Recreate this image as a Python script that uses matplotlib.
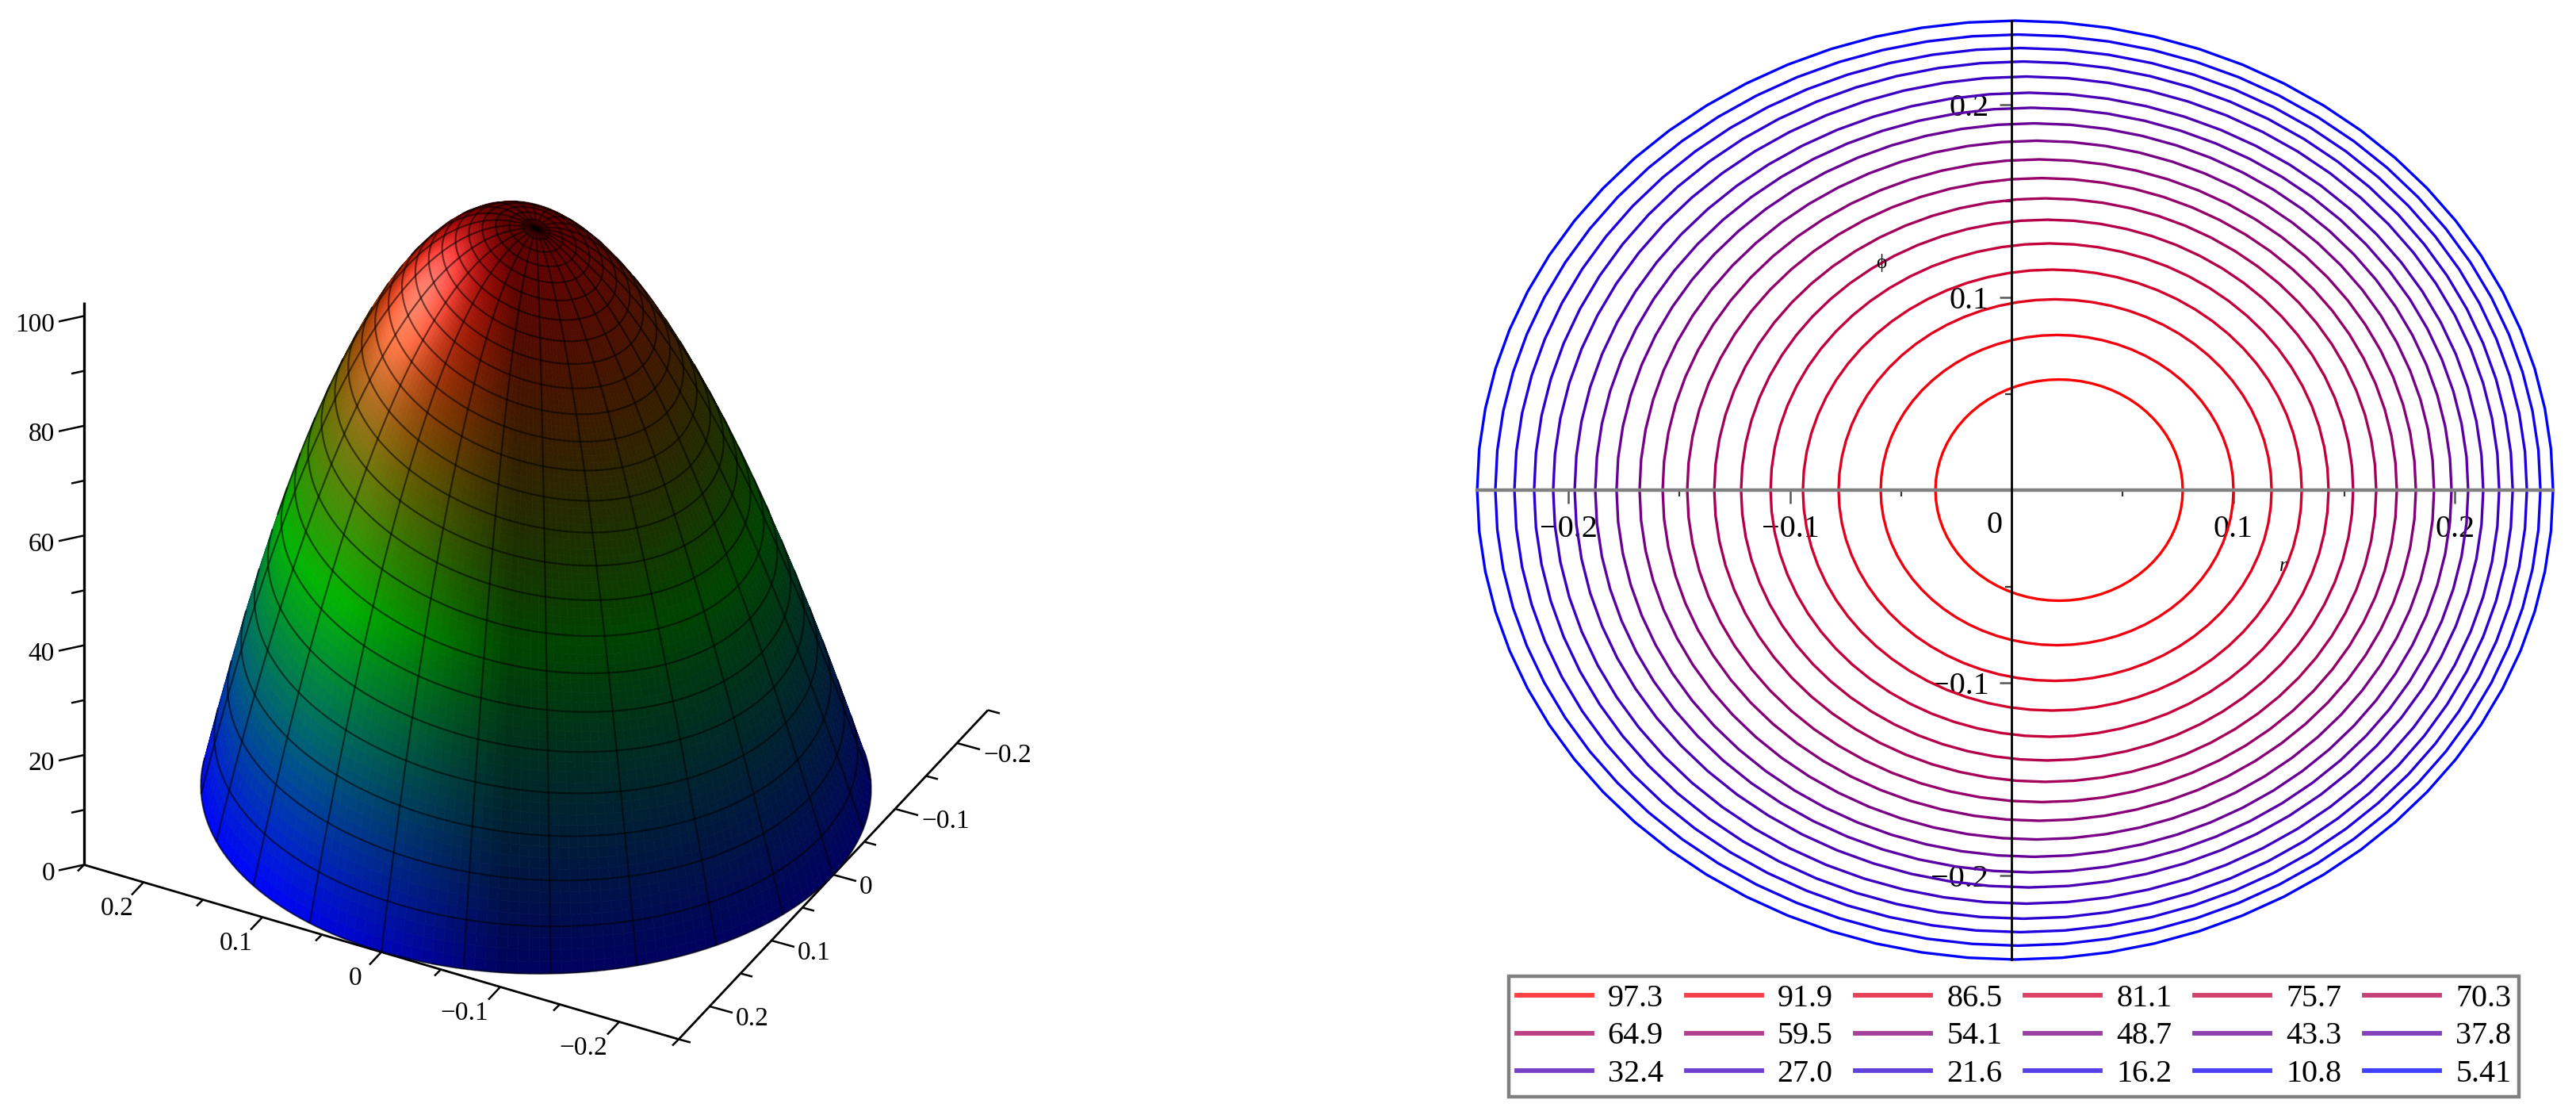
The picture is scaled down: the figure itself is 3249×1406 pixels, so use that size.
import numpy as np
import matplotlib
matplotlib.use('Agg')
import matplotlib.pyplot as plt
from matplotlib.collections import LineCollection, PolyCollection
from matplotlib.lines import Line2D

plt.rcParams['font.family'] = ['Liberation Serif', 'DejaVu Serif']

# contour levels, inner to outer
levels = [97.3, 91.9, 86.5, 81.1, 75.7, 70.3, 64.9, 59.5, 54.1,
          48.7, 43.3, 37.8, 32.4, 27.0, 21.6, 16.2, 10.8, 5.41]
level_labels = ['97.3', '91.9', '86.5', '81.1', '75.7', '70.3', '64.9', '59.5', '54.1',
                '48.7', '43.3', '37.8', '32.4', '27.0', '21.6', '16.2', '10.8', '5.41']
# where each contour crosses the axes
r_left = [-0.0345, -0.0592, -0.0782, -0.0943, -0.1089, -0.1222, -0.1343, -0.1465, -0.1576,
          -0.1680, -0.1784, -0.1880, -0.1973, -0.2070, -0.2156, -0.2245, -0.2331, -0.2413]
r_right = [0.0771, 0.1000, 0.1172, 0.1308, 0.1429, 0.1540, 0.1644, 0.1737, 0.1823,
           0.1905, 0.1984, 0.2059, 0.2127, 0.2199, 0.2260, 0.2324, 0.2385, 0.2442]
phi_half = [0.0574, 0.0805, 0.0990, 0.1144, 0.1280, 0.1403, 0.1514, 0.1619, 0.1716,
            0.1813, 0.1903, 0.1984, 0.2062, 0.2146, 0.2224, 0.2294, 0.2364, 0.2436]
peak_z = 102.7
peak_r = 0.0215
rim_radius = 0.25

z_major = [0, 20, 40, 60, 80, 100]
z_minor = [10, 30, 50, 70, 90]
r_major = [-0.2, -0.1, 0, 0.1, 0.2]
r_minor = [-0.25, -0.15, -0.05, 0.05, 0.15, 0.25]
tick_labels = ['\u22120.2', '\u22120.1', '0', '0.1', '0.2']

W, H = 3249, 1406
fig = plt.figure(figsize=(W / 100, H / 100), dpi=100)


# oblique view of the left plot, in image pixels
def project(a, b, z):
    a, b, z = np.broadcast_arrays(a, b, z)
    return 676 - 1500 * a - 780 * b, 993 - 440 * a + 830 * b - 6.92 * z


ax3 = fig.add_axes([0, 0, 1, 1])
ax3.set_xlim(0, W)
ax3.set_ylim(H, 0)
ax3.axis('off')

# surface heights come from the contour readings
lv = np.array(levels + [0.0, peak_z])
lo = np.array(r_left + [-rim_radius, peak_r])
hi = np.array(r_right + [rim_radius, peak_r])
ph = np.array(phi_half + [rim_radius, 0.0])
fit_c = np.polyfit(lv, (lo + hi) / 2, 3)
fit_rx = np.polyfit(lv, ((hi - lo) / 2) ** 2, 3)
fit_ry = np.polyfit(lv, ph ** 2, 3)


def outside(a, b, z):
    rx = np.maximum(np.polyval(fit_rx, z), 1e-7)
    ry = np.maximum(np.polyval(fit_ry, z), 1e-7)
    return (a - np.polyval(fit_c, z)) ** 2 / rx + b ** 2 / ry - 1


def height(a, b):
    low = np.zeros_like(a)
    high = np.full_like(a, peak_z)
    for _ in range(40):
        mid = (low + high) / 2
        over = outside(a, b, mid) > 0
        high = np.where(over, mid, high)
        low = np.where(over, low, mid)
    return (low + high) / 2


n_rings, n_spokes = 25, 24
sub_r, sub_t = 4, 8
rr = np.linspace(0, rim_radius, n_rings * sub_r + 1)
tt = np.linspace(0, 2 * np.pi, n_spokes * sub_t + 1)
R, T = np.meshgrid(rr, tt, indexing='ij')
A = R * np.cos(T)
B = R * np.sin(T)
Z = height(A, B)
PX, PY = project(A, B, Z)

# lighting
zs = 1 / 400
da = np.gradient(A, axis=0), np.gradient(A, axis=1)
db = np.gradient(B, axis=0), np.gradient(B, axis=1)
dz = np.gradient(Z * zs, axis=0), np.gradient(Z * zs, axis=1)
nx = db[0] * dz[1] - dz[0] * db[1]
ny = dz[0] * da[1] - da[0] * dz[1]
nz = da[0] * db[1] - db[0] * da[1]
ln = np.sqrt(nx ** 2 + ny ** 2 + nz ** 2) + 1e-12
nx, ny, nz = nx / ln, ny / ln, nz / ln
nx[0], ny[0], nz[0] = nx[1], ny[1], nz[1]
light = np.array([0.55, 0.62, 0.55])
light = light / np.linalg.norm(light)
dot = nx * light[0] + ny * light[1] + nz * light[2]
shade = 0.38 + 0.62 * np.clip((dot - 0.6) / 0.36, 0, 1)
spec_dir = np.array([0.32, 0.42, 0.85])
spec_dir = spec_dir / np.linalg.norm(spec_dir)
spec = np.clip(nx * spec_dir[0] + ny * spec_dir[1] + nz * spec_dir[2], 0, 1) ** 35 * 0.42

base_r = np.interp(Z, [0, 50, 100], [0, 0, 1])
base_g = np.interp(Z, [0, 50, 100], [0, 0.7, 0])
base_b = np.interp(Z, [0, 50, 100], [1, 0, 0])
RGB = np.dstack([base_r * shade + spec, base_g * shade + spec, base_b * shade + spec])
RGB = np.clip(RGB, 0, 1)

area = (PX[1:, :-1] - PX[:-1, :-1]) * (PY[:-1, 1:] - PY[:-1, :-1]) \
    - (PY[1:, :-1] - PY[:-1, :-1]) * (PX[:-1, 1:] - PX[:-1, :-1])
front = area < 0
front[:sub_r] = True

verts, faces = [], []
for i in range(len(rr) - 1):
    for j in range(len(tt) - 1):
        if front[i, j]:
            verts.append([(PX[i, j], PY[i, j]), (PX[i + 1, j], PY[i + 1, j]),
                          (PX[i + 1, j + 1], PY[i + 1, j + 1]), (PX[i, j + 1], PY[i, j + 1])])
            faces.append(RGB[i, j])
ax3.add_collection(PolyCollection(verts, facecolors=faces, edgecolors=faces, linewidths=0.5, zorder=2))

# mesh lines, front side only
segs = []
for i in range(sub_r, len(rr), sub_r):
    for j in range(len(tt) - 1):
        if front[min(i, len(rr) - 2), j] or front[i - 1, j]:
            segs.append([(PX[i, j], PY[i, j]), (PX[i, j + 1], PY[i, j + 1])])
for j in range(0, len(tt) - 1, sub_t):
    for i in range(len(rr) - 1):
        if front[i, j] or front[i, j - 1]:
            segs.append([(PX[i, j], PY[i, j]), (PX[i + 1, j], PY[i + 1, j])])
ax3.add_collection(LineCollection(segs, colors='black', alpha=0.55, linewidths=1.6, zorder=3))


def seg(ax, xs, ys, lw=2.4):
    ax.plot(xs, ys, color='black', lw=lw, solid_capstyle='butt', zorder=1)


# axes of the left plot
x0, y0 = project(rim_radius, rim_radius, [0, 102.6])
seg(ax3, x0, y0)
x1, y1 = project([rim_radius, -rim_radius], rim_radius, 0)
seg(ax3, x1, y1, 2.0)
x2, y2 = project(-rim_radius, [rim_radius, -rim_radius], 0)
seg(ax3, x2, y2, 2.0)

for v in z_major:
    x, y = project(rim_radius, rim_radius, v)
    seg(ax3, [x, x - 32], [y, y + 7], 1.8)
    ax3.text(x - 37, y + 11, str(v), ha='right', va='center', fontsize=24)
for v in z_minor:
    x, y = project(rim_radius, rim_radius, v)
    seg(ax3, [x, x - 16], [y, y + 3.5], 1.8)
for v, lab in zip(r_major, tick_labels):
    x, y = project(v, rim_radius, 0)
    seg(ax3, [x, x - 15], [y, y + 16], 1.8)
    ax3.text(x - 33 - (12 if v < 0 else 0), y + 33, lab, ha='center', va='center', fontsize=24)
    x, y = project(-rim_radius, v, 0)
    seg(ax3, [x, x + 29], [y, y + 8], 1.8)
    ax3.text(x + 33, y + 16, lab, ha='left', va='center', fontsize=24)
for v in r_minor:
    x, y = project(v, rim_radius, 0)
    seg(ax3, [x, x - 8], [y, y + 8], 1.8)
    x, y = project(-rim_radius, v, 0)
    seg(ax3, [x, x + 15], [y, y + 4], 1.8)

# contour plot
xlim = (r_left[-1], r_right[-1])
ylim = (-phi_half[-1], phi_half[-1])
px_x = (2537.5 + 2795 * xlim[0], 2537.5 + 2795 * xlim[1])
px_y = (618 - 2430 * ylim[1], 618 - 2430 * ylim[0])
ax = fig.add_axes([px_x[0] / W, 1 - px_y[1] / H, (px_x[1] - px_x[0]) / W, (px_y[1] - px_y[0]) / H])
ax.patch.set_alpha(0)
ax.set_xlim(xlim)
ax.set_ylim(ylim)

frac = np.linspace(0, 1, len(levels))
colors = [(1 - f, 0, f) for f in frac]
ang = np.linspace(0, 2 * np.pi, 73)
handles = []
for k in range(len(levels)):
    cx = (r_left[k] + r_right[k]) / 2
    rx = (r_right[k] - r_left[k]) / 2
    ax.plot(cx + rx * np.cos(ang), phi_half[k] * np.sin(ang), color=colors[k], lw=2.4, clip_on=False, zorder=2)
    handles.append(Line2D([], [], color=colors[k], alpha=0.75, lw=3.2, label=level_labels[k]))

for side in ['top', 'right']:
    ax.spines[side].set_visible(False)
ax.spines['left'].set_position('zero')
ax.spines['bottom'].set_position('zero')
ax.spines['left'].set_linewidth(2.0)
ax.spines['bottom'].set_linewidth(3.2)
ax.spines['bottom'].set_color('#808080')
ax.spines['left'].set_zorder(5)
ax.spines['bottom'].set_zorder(4)

ax.set_xticks([-0.2, -0.1, 0.1, 0.2])
ax.set_xticklabels(['\u22120.2', '\u22120.1', '0.1', '0.2'])
ax.set_yticks([-0.2, -0.1, 0.1, 0.2])
ax.set_yticklabels(['\u22120.2', '\u22120.1', '0.1', '0.2'])
ax.set_xticks([-0.15, -0.05, 0.05, 0.15], minor=True)
ax.set_yticks([-0.15, -0.05, 0.05, 0.15], minor=True)
ax.tick_params(axis='x', which='major', length=12, width=1.8, color='#555555', pad=10, labelsize=29)
ax.tick_params(axis='y', which='major', length=11, width=1.8, color='#555555', pad=10, labelsize=29)
ax.tick_params(which='minor', length=6, width=1.6, color='#333333')
for t in ax.get_xticklabels() + ax.get_yticklabels():
    t.set_zorder(6)
ax.text(-0.008, -0.0185, '0', ha='center', va='center', fontsize=29, zorder=6)
ax.text(-0.0589, 0.1177, '\u03d5', ha='center', va='center', fontsize=18, zorder=6)
ax.text(0.1225, -0.0395, 'r', ha='center', va='center', fontsize=18, style='italic', zorder=6)

# legend is filled by column, the reference reads by row
order = [handles[r * 6 + c] for c in range(6) for r in range(3)]
leg = fig.legend(handles=order, ncol=6, loc='center',
                 bbox_to_anchor=(2540 / W, 1 - 1307 / H), bbox_transform=fig.transFigure,
                 fontsize=28.8, handlelength=2.375, handletextpad=0.5, columnspacing=0.72,
                 labelspacing=0.27, borderpad=0.25, borderaxespad=0, fancybox=False,
                 edgecolor='#808080', framealpha=1)
leg.get_frame().set_linewidth(3.2)
for line in leg.get_lines():
    line.set_linewidth(4.2)

fig.savefig('out.png', dpi=100)
